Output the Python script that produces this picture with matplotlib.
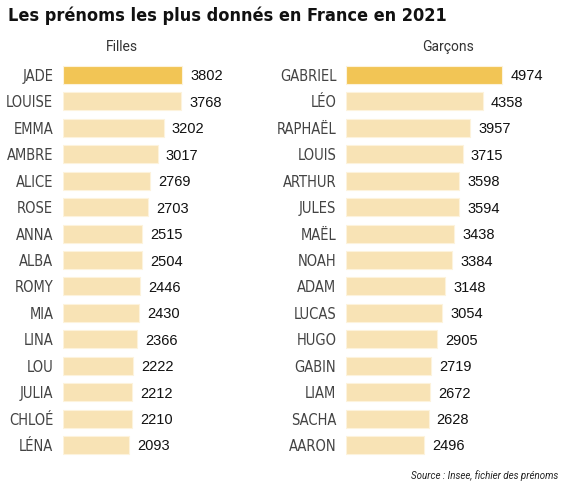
import matplotlib as mpl
import matplotlib.pyplot as plt

mpl.rcParams['font.family'] = ['Roboto', 'DejaVu Sans']

# data
filles = ['JADE', 'LOUISE', 'EMMA', 'AMBRE', 'ALICE', 'ROSE', 'ANNA', 'ALBA',
          'ROMY', 'MIA', 'LINA', 'LOU', 'JULIA', 'CHLOÉ', 'LÉNA']
filles_vals = [3802, 3768, 3202, 3017, 2769, 2703, 2515, 2504,
               2446, 2430, 2366, 2222, 2212, 2210, 2093]
garcons = ['GABRIEL', 'LÉO', 'RAPHAËL', 'LOUIS', 'ARTHUR', 'JULES', 'MAËL', 'NOAH',
           'ADAM', 'LUCAS', 'HUGO', 'GABIN', 'LIAM', 'SACHA', 'AARON']
garcons_vals = [4974, 4358, 3957, 3715, 3598, 3594, 3438, 3384,
                3148, 3054, 2905, 2719, 2672, 2628, 2496]

W, H = 567, 491
fig = plt.figure(figsize=(W/100, H/100), dpi=100)

hi_col = '#f2c555'
lo_col = '#f8e3b5'

# px per unit ~0.0314, rows centred 75 .. 445
xmax = 6000
axw = xmax*0.0314
row = (445-75)/14
top = 75 - row/2
bot = 445 + row/2

def panel(x0, names, vals):
    ax = fig.add_axes([x0/W, 1-bot/H, axw/W, (bot-top)/H])
    ys = list(range(len(names)))
    cols = [hi_col] + [lo_col]*(len(names)-1)
    ax.barh(ys, vals, height=0.68, color=cols, edgecolor='#fdf3dc', linewidth=0.8)
    ax.set_xlim(0, xmax)
    ax.set_ylim(len(names)-0.5, -0.5)
    ax.set_yticks(ys)
    ax.set_yticklabels(names, family='DejaVu Sans', fontstretch='condensed',
                       fontsize=10.5, color='#444444')
    ax.tick_params(axis='y', length=0, pad=7)
    ax.set_xticks([])
    for s in ax.spines.values():
        s.set_visible(False)
    for y, v in zip(ys, vals):
        ax.text(v + 260, y, str(v), va='center_baseline', ha='left', fontsize=10.5,
                family=['Liberation Sans', 'DejaVu Sans'], color='#111111')
    return ax

panel(63, filles, filles_vals)
panel(346, garcons, garcons_vals)

fig.text(122/W, 1-47/H, 'Filles', ha='center', va='center', fontsize=10, color='#333333')
fig.text(448/W, 1-47/H, 'Garçons', ha='center', va='center', fontsize=10, color='#333333')
fig.text(8/W, 1-16/H, 'Les prénoms les plus donnés en France en 2021', ha='left', va='center',
         fontsize=13, fontweight='bold', family='DejaVu Sans', fontstretch='condensed',
         color='#111111')
fig.text(558/W, 1-476/H, 'Source : Insee, fichier des prénoms', ha='right', va='center',
         fontsize=7, style='italic', color='#222222')

fig.savefig('out.png', dpi=100)
